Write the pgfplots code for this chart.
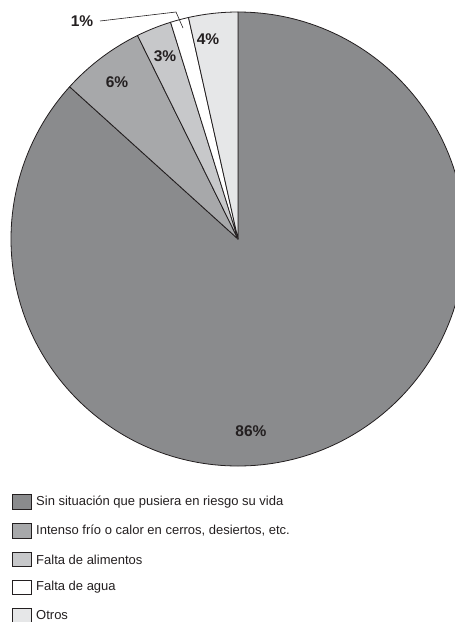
\documentclass[border=0pt]{standalone}
\usepackage{pgfplots}
\pgfplotsset{compat=1.18}
\usepackage{fontspec}
\setmainfont{Liberation Sans}

\definecolor{ink}{HTML}{231F20}
\definecolor{sA}{HTML}{8A8B8D}
\definecolor{sB}{HTML}{A7A8AA}
\definecolor{sC}{HTML}{C7C8CA}
\definecolor{sD}{HTML}{FFFFFF}
\definecolor{sE}{HTML}{E6E7E8}

% shares, clockwise from 12 o'clock
\def\vA{86.7}
\def\vB{6.0}
\def\vC{2.5}
\def\vD{1.3}
\def\vE{3.5}
\pgfmathsetmacro\aA{90}
\pgfmathsetmacro\aB{\aA-3.6*\vA}
\pgfmathsetmacro\aC{\aB-3.6*\vB}
\pgfmathsetmacro\aD{\aC-3.6*\vC}
\pgfmathsetmacro\aE{\aD-3.6*\vD}
\pgfmathsetmacro\aF{\aE-3.6*\vE}
\def\R{227pt}

\begin{document}
\begin{tikzpicture}
\begin{axis}[
  width=455pt, height=622pt, scale only axis,
  xmin=0, xmax=455, ymin=0, ymax=622, y dir=reverse,
  hide axis,
]
  \tikzset{slice/.style={draw=ink, line width=0.8pt, line join=round}}
  \filldraw[slice, fill=sA] (axis cs:238,239) -- ++(\aA:\R) arc[start angle=\aA, end angle=\aB, radius=\R] -- cycle;
  \filldraw[slice, fill=sB] (axis cs:238,239) -- ++(\aB:\R) arc[start angle=\aB, end angle=\aC, radius=\R] -- cycle;
  \filldraw[slice, fill=sC] (axis cs:238,239) -- ++(\aC:\R) arc[start angle=\aC, end angle=\aD, radius=\R] -- cycle;
  \filldraw[slice, fill=sD] (axis cs:238,239) -- ++(\aD:\R) arc[start angle=\aD, end angle=\aE, radius=\R] -- cycle;
  \filldraw[slice, fill=sE] (axis cs:238,239) -- ++(\aE:\R) arc[start angle=\aE, end angle=\aF, radius=\R] -- cycle;

  % percent labels
  \tikzset{pct/.style={text=ink, font=\fontsize{15.5}{18}\selectfont\bfseries, inner sep=0pt}}
  \node[pct] at (axis cs:251,431) {86\%};
  \node[pct] at (axis cs:117,82) {6\%};
  \node[pct] at (axis cs:165,56) {3\%};
  \node[pct] at (axis cs:208,39) {4\%};
  \node[pct] at (axis cs:82,21) {1\%};
  \draw[ink, line width=0.6pt] (axis cs:100,21) -- (axis cs:176,12) -- (axis cs:183,28);

  % legend
  \tikzset{key/.style={draw=ink, line width=0.6pt},
           lab/.style={anchor=west, text=ink, inner sep=0pt, font=\fontsize{13}{15}\selectfont}}
  \filldraw[key, fill=sA] (axis cs:12,494.5) rectangle (axis cs:31.5,509);
  \node[lab] at (axis cs:36,502) {Sin situación que pusiera en riesgo su vida};
  \filldraw[key, fill=sB] (axis cs:12,523.5) rectangle (axis cs:31.5,538);
  \node[lab] at (axis cs:36,531) {Intenso frío o calor en cerros, desiertos, etc.};
  \filldraw[key, fill=sC] (axis cs:12,552) rectangle (axis cs:31.5,566.5);
  \node[lab] at (axis cs:36,559.5) {Falta de alimentos};
  \filldraw[key, fill=sD] (axis cs:12,580) rectangle (axis cs:31.5,594.5);
  \node[lab] at (axis cs:36,587.5) {Falta de agua};
  \filldraw[key, fill=sE] (axis cs:12,608) rectangle (axis cs:31.5,623);
  \node[lab] at (axis cs:36,615) {Otros};
\end{axis}
\pgfresetboundingbox
\useasboundingbox (current axis.south west) rectangle (current axis.north east);
\end{tikzpicture}
\end{document}
